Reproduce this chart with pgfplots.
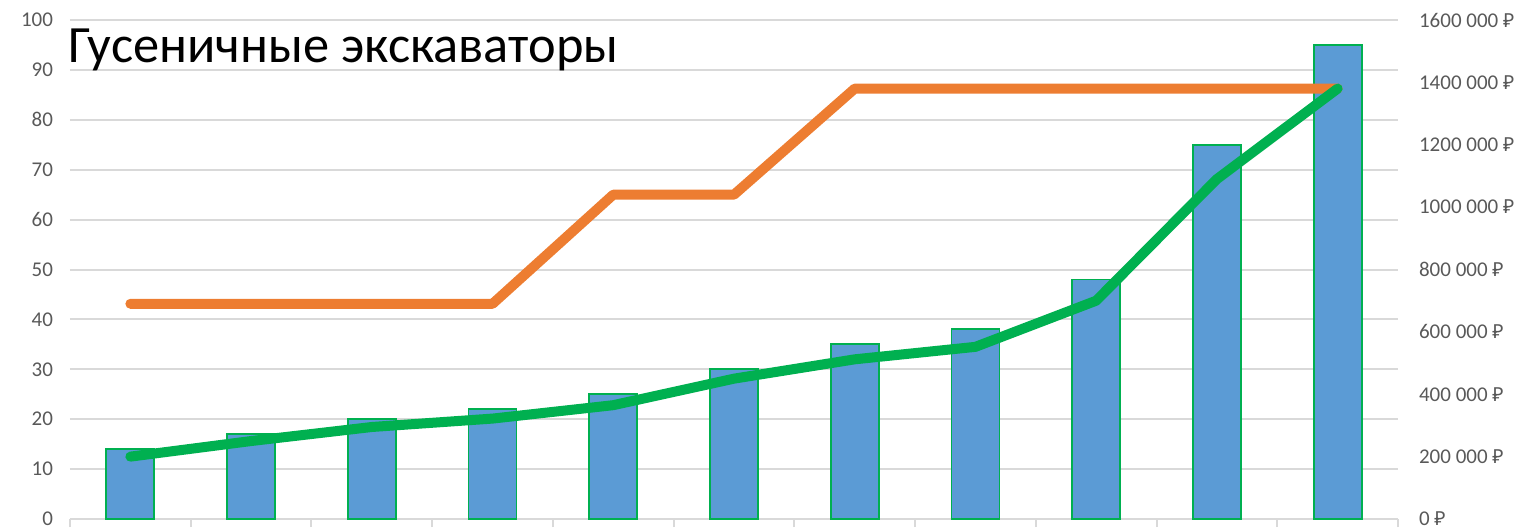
\documentclass[border=0pt]{standalone}
\usepackage{pgfplots}
\pgfplotsset{compat=1.18}
\usepackage{fontspec}
\setmainfont{Carlito}
\newfontfamily\rubfont{Noto Sans}[Scale=0.92]
\newcommand{\rub}{{\rubfont ₽}}

\definecolor{barblue}{HTML}{5B9BD5}
\definecolor{bargreen}{HTML}{00B050}
\definecolor{lineorange}{HTML}{ED7D31}
\definecolor{gridgray}{HTML}{D9D9D9}
\definecolor{labelgray}{HTML}{595959}

\begin{document}
\begin{tikzpicture}
\path[use as bounding box] (-35pt,-4pt) rectangle (731pt,259.5pt);

% bars, left axis
\begin{axis}[
    at={(0,0)}, anchor=south west,
    scale only axis, width=664pt, height=249.5pt,
    xmin=-0.5, xmax=10.5, ymin=0, ymax=100,
    separate axis lines,
    axis x line*=bottom, x axis line style={draw=gridgray, line width=1pt, -},
    axis y line*=left, y axis line style={draw=none},
    ytick={0,10,...,100},
    ymajorgrids, grid style={gridgray, line width=1pt},
    ytick style={draw=none},
    xtick={-0.5,0.5,1.5,2.5,3.5,4.5,5.5,6.5,7.5,8.5,9.5,10.5},
    xticklabels={},
    xtick style={draw=gridgray, line width=1pt},
    xtick align=outside, major tick length=4pt,
    /pgf/number format/assume math mode=true,
    ticklabel style={font=\fontsize{10.5}{12}\selectfont, text=labelgray},
    yticklabel style={xshift=-5pt},
]
\addplot[ybar, bar width=24pt, fill=barblue, draw=bargreen, line width=0.9pt]
    coordinates {(0,14) (1,17) (2,20) (3,22) (4,25) (5,30) (6,35) (7,38) (8,48) (9,75) (10,95)};
\end{axis}

% lines, right axis
\begin{axis}[
    at={(0,0)}, anchor=south west,
    scale only axis, width=664pt, height=249.5pt,
    xmin=-0.5, xmax=10.5, ymin=0, ymax=1600000,
    axis x line=none,
    axis y line*=right, y axis line style={draw=none},
    ytick={0,200000,400000,600000,800000,1000000,1200000,1400000,1600000},
    yticklabels={0 \rub, 200 000 \rub, 400 000 \rub, 600 000 \rub, 800 000 \rub,
                 1000 000 \rub, 1200 000 \rub, 1400 000 \rub, 1600 000 \rub},
    scaled y ticks=false,
    ytick style={draw=none},
    ticklabel style={font=\fontsize{10.5}{12}\selectfont, text=labelgray},
    yticklabel style={anchor=west, xshift=7pt},
]
\addplot[lineorange, line width=5pt, line cap=round, line join=round]
    coordinates {(0,690000) (1,690000) (2,690000) (3,690000) (4,1040000) (5,1040000)
                 (6,1380000) (7,1380000) (8,1380000) (9,1380000) (10,1380000)};
\addplot[bargreen, line width=5pt, line cap=round, line join=round]
    coordinates {(0,200000) (1,250000) (2,295000) (3,322000) (4,365000) (5,450000)
                 (6,512000) (7,552000) (8,700000) (9,1090000) (10,1380000)};
\end{axis}

\node[anchor=base west, inner sep=0pt, font=\fontsize{26.2}{28}\selectfont]
    at (-1pt,228.5pt) {Гусеничные экскаваторы};
\end{tikzpicture}
\end{document}
